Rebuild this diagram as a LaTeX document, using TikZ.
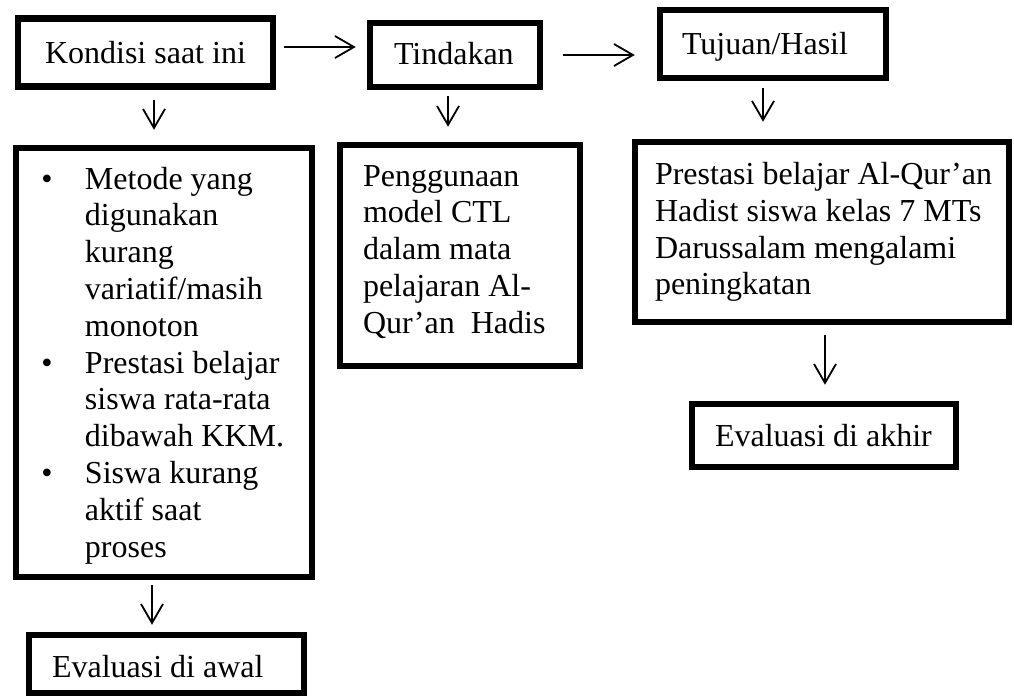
\documentclass[tikz,border=0pt]{standalone}
\usepackage{fontspec}
\setmainfont{Liberation Serif}
\usetikzlibrary{arrows.meta,calc}
\newcommand\bxt[4]{\hspace*{#1pt}\parbox[c][#2pt][t]{#3pt}{\rule{0pt}{#4pt}\ignorespaces}}
\newcommand\bul{\makebox[43.6pt][l]{•}}
\newcommand\ind{\hspace*{43.6pt}}
\tikzset{
  box/.style={draw=black, line width=6.5pt, fill=white, inner sep=0pt, font=\fontsize{32}{36.8}\selectfont},
  arr/.style={draw=black, line width=1.8pt, -{Straight Barb[length=19pt,width=22pt,line width=1.8pt]}}
}
\begin{document}
\begin{tikzpicture}[x=1pt,y=-1pt]
\useasboundingbox (0,0) rectangle (1014,697);
\fill[white] (0,0) rectangle (1014,697);

\node[box, minimum width=255pt, minimum height=68pt] (kondisi) at (145.5,52.5)
  {\hspace*{27pt}\parbox[c][68pt][t]{228pt}{\rule{0pt}{45pt}Kondisi saat ini}};
\node[box, minimum width=170pt, minimum height=64pt] (tindakan) at (455,55)
  {\hspace*{24pt}\parbox[c][64pt][t]{146pt}{\rule{0pt}{41pt}Tindakan}};
\node[box, minimum width=226pt, minimum height=68pt] (tujuan) at (773,44)
  {\hspace*{22pt}\parbox[c][68pt][t]{204pt}{\rule{0pt}{44pt}Tujuan/Hasil}};

\node[box, minimum width=296pt, minimum height=429pt] (kondisirinci) at (164,362.5)
  {\hspace*{25.4pt}\parbox[c][429pt][t]{270.6pt}{\rule{0pt}{41pt}\bul Metode yang\\
   \ind digunakan\\
   \ind kurang\\
   \ind variatif/masih\\
   \ind monoton\\
   \bul Prestasi belajar\\
   \ind siswa rata-rata\\
   \ind dibawah KKM.\\
   \bul Siswa kurang\\
   \ind aktif saat\\
   \ind proses}};

\node[box, minimum width=240pt, minimum height=221pt] (penggunaan) at (460,255.5)
  {\hspace*{23pt}\parbox[c][221pt][t]{217pt}{\rule{0pt}{41pt}Penggunaan\\
   model CTL\\
   dalam mata\\
   pelajaran Al-\\
   Qur’an\ \ Hadis}};

\node[box, minimum width=374pt, minimum height=180pt] (prestasi) at (822,232)
  {\hspace*{20pt}\parbox[c][180pt][t]{354pt}{\rule{0pt}{42.5pt}Prestasi belajar Al-Qur’an\\
   Hadist siswa kelas 7 MTs\\
   Darussalam mengalami\\
   peningkatan}};

\node[box, minimum width=264pt, minimum height=63pt] (akhir) at (824,435.5)
  {\hspace*{23pt}\parbox[c][63pt][t]{241pt}{\rule{0pt}{42.5pt}Evaluasi di akhir}};
\node[box, minimum width=275pt, minimum height=58pt] (awal) at (166.5,664)
  {\hspace*{23pt}\parbox[c][58pt][t]{252pt}{\rule{0pt}{42pt}Evaluasi di awal}};

\draw[arr] ($(kondisi.east)+(8,-5.5)$) -- ($(tindakan.west |- kondisi.east)+(-11,-5.5)$);
\draw[arr] ($(tindakan.east)+(20,0)$) -- ($(tujuan.west |- tindakan.east)+(-22,0)$);
\draw[arr] ($(kondisi.south)+(8.5,10.5)$) -- ($(kondisi.south |- kondisirinci.north)+(8.5,-15)$);
\draw[arr] ($(tindakan.south)+(-7,6)$) -- ($(tindakan.south |- penggunaan.north)+(-7,-15)$);
\draw[arr] ($(tujuan.south)+(-10,7)$) -- ($(tujuan.south |- prestasi.north)+(-10,-17)$);
\draw[arr] ($(prestasi.south)+(3,10)$) -- ($(prestasi.south |- akhir.north)+(3,-16)$);
\draw[arr] ($(kondisirinci.south)+(-12,5)$) -- ($(kondisirinci.south |- awal.north)+(-12,-7)$);
\end{tikzpicture}
\end{document}
